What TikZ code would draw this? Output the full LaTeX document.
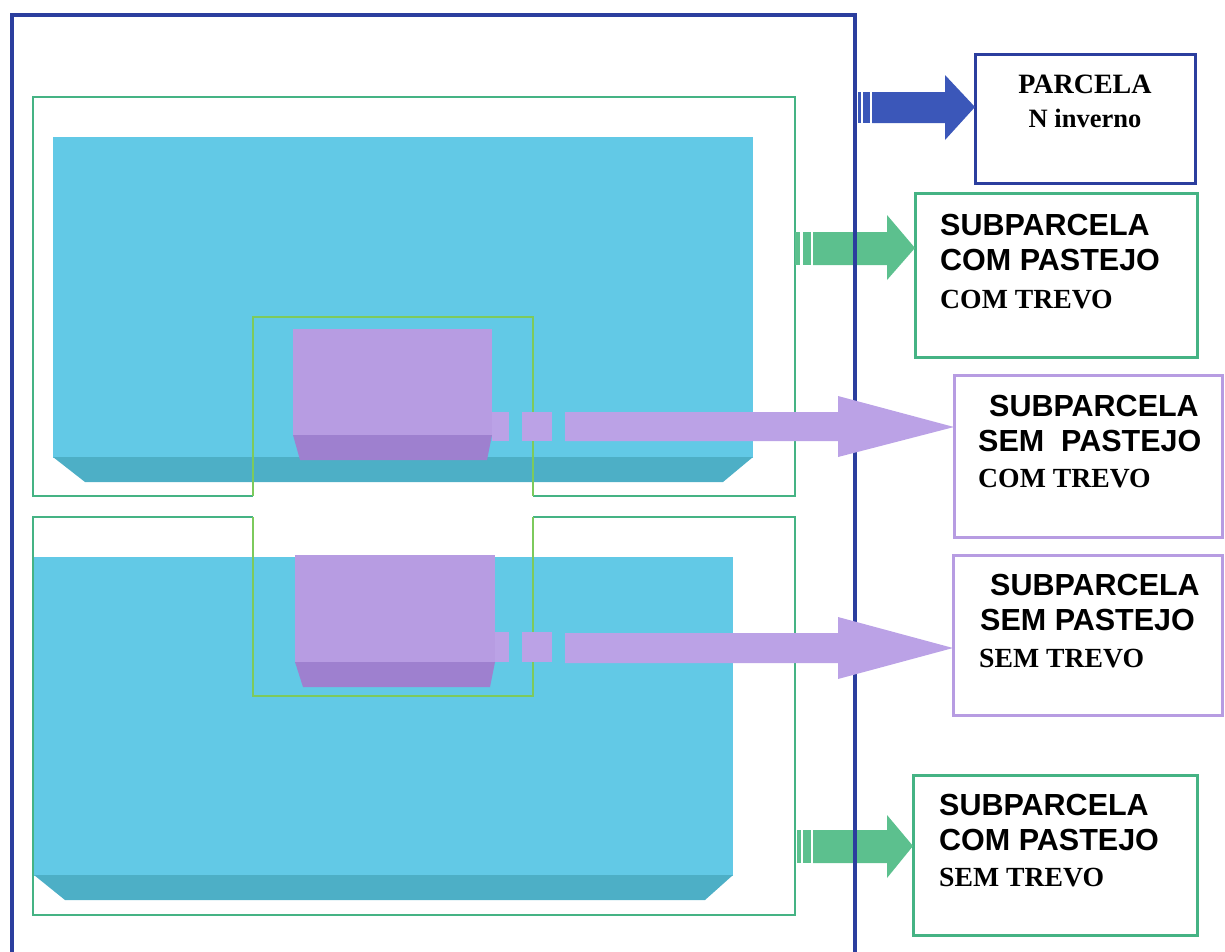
\documentclass[tikz,border=0pt]{standalone}
\usepackage{fontspec}
\setmainfont{Liberation Serif}
\setsansfont{Liberation Sans}
\usetikzlibrary{calc}
\definecolor{pblue}{HTML}{2B3E9E}
\definecolor{pgreen}{HTML}{45B384}
\definecolor{pcyan}{HTML}{62C9E6}
\definecolor{pcyanD}{HTML}{4DAFC6}
\definecolor{ppurple}{HTML}{B79CE2}
\definecolor{ppurpleD}{HTML}{9E80CF}
\definecolor{parrow}{HTML}{BBA2E6}
\definecolor{barrow}{HTML}{3B57B9}
\definecolor{garrow}{HTML}{5CC08E}
\tikzset{
  frameline/.style={draw=pblue, line width=4pt},
  greenline/.style={draw=pgreen, line width=1.8pt},
  innerline/.style={draw=pgreen!70!yellow, line width=1.6pt},
  labelbox/.style={anchor=north west, inner sep=0pt, outer sep=0pt},
  bluebox/.style={labelbox, draw=pblue, line width=3pt},
  greenbox/.style={labelbox, draw=pgreen, line width=3pt},
  purplebox/.style={labelbox, draw=ppurple, line width=3pt},
  sanslbl/.style={anchor=base west, inner sep=0pt, font=\sffamily\bfseries\fontsize{30.5}{30.5}\selectfont},
  seriflbl/.style={anchor=base west, inner sep=0pt, font=\rmfamily\bfseries\fontsize{27.7}{27.7}\selectfont},
}
\begin{document}
\begin{tikzpicture}[x=1pt,y=-1pt]
\useasboundingbox (0,0) rectangle (1225,951);

% cyan blocks
\fill[pcyan] (53,137) rectangle (753,458);
\fill[pcyanD] (53,457) -- (753,457) -- (723,482) -- (85,482) -- cycle;
\fill[pcyan] (34,557) rectangle (733,876);
\fill[pcyanD] (34,875) -- (733,875) -- (705,900) -- (65,900) -- cycle;

% green plot outlines
\draw[greenline] (253,496) -- (33,496) -- (33,97) -- (795,97) -- (795,496) -- (533,496);
\draw[greenline] (253,517) -- (33,517) -- (33,915) -- (795,915) -- (795,517) -- (533,517);
\draw[innerline] (253,496) -- (253,317) -- (533,317) -- (533,496);
\draw[innerline] (253,517) -- (253,696) -- (533,696) -- (533,517);

% purple blocks
\fill[ppurple] (293,329) rectangle (492,436);
\fill[ppurpleD] (293,435) -- (492,435) -- (487,460) -- (300,460) -- cycle;
\fill[ppurple] (295,555) rectangle (495,663);
\fill[ppurpleD] (295,662) -- (495,662) -- (490,687) -- (303,687) -- cycle;

% label boxes
\node[bluebox, minimum width=220, minimum height=129] (parcela) at (975,54) {};
\node[greenbox, minimum width=282, minimum height=164] (gcom) at (915,193) {};
\node[purplebox, minimum width=268, minimum height=162] (pcom) at (954,375) {};
\node[purplebox, minimum width=269, minimum height=160] (psem) at (953,555) {};
\node[greenbox, minimum width=284, minimum height=160] (gsem) at (913,775) {};

% arrow tips
\coordinate (tipB) at ($(parcela.north west)+(0,53)$);
\coordinate (tipG1) at ($(gcom.north west)+(0,55)$);
\coordinate (tipP1) at ($(pcom.north west)+(0,52)$);
\coordinate (tipP2) at ($(psem.north west)+(0,93)$);
\coordinate (tipG2) at ($(gsem.north west)+(0,71)$);

% green arrows (under the blue frame)
\fill[garrow] (795,232) rectangle (800,265);
\fill[garrow] (803,232) rectangle (811,265);
\fill[garrow] (813,232) -- (887,232) -- (887,215) -- (tipG1) -- (887,280) -- (887,265) -- (813,265) -- cycle;
\fill[garrow] (797,830) rectangle (801,863);
\fill[garrow] (803,830) rectangle (811,863);
\fill[garrow] (813,830) -- (887,830) -- (887,815) -- (tipG2) -- (887,878) -- (887,863) -- (813,863) -- cycle;

% blue frame
\draw[frameline] (12,953) -- (12,15) -- (855,15) -- (855,953);

% blue arrow
\fill[barrow] (858,92) rectangle (861,123);
\fill[barrow] (863,92) rectangle (870,123);
\fill[barrow] (872,92) -- (945,92) -- (945,75) -- (tipB) -- (945,140) -- (945,123) -- (872,123) -- cycle;

% purple arrows
\fill[parrow] (492,412) rectangle (509,441);
\fill[parrow] (522,412) rectangle (552,441);
\fill[parrow] (565,412) -- (838,412) -- (838,396) -- (tipP1) -- (838,457) -- (838,441) -- (565,441) -- cycle;
\fill[parrow] (495,632) rectangle (509,662);
\fill[parrow] (522,632) rectangle (552,662);
\fill[parrow] (565,633) -- (838,633) -- (838,617) -- (tipP2) -- (838,679) -- (838,663) -- (565,663) -- cycle;

% texts
\node[anchor=base, inner sep=0pt, font=\rmfamily\bfseries\fontsize{28}{28}\selectfont] (t1a) at ($(parcela.north)+(0,39)$) {PARCELA};
\node[anchor=base, inner sep=0pt, font=\rmfamily\bfseries\fontsize{26.5}{26.5}\selectfont] (t1b) at ($(parcela.north)+(0,73)$) {N inverno};

\node[sanslbl] (t2a) at ($(gcom.north west)+(25,42)$) {SUBPARCELA};
\node[sanslbl] (t2b) at ($(gcom.north west)+(25,77)$) {COM PASTEJO};
\node[seriflbl] (t2c) at ($(gcom.north west)+(25,115)$) {COM TREVO};

\node[sanslbl] (t3a) at ($(pcom.north west)+(35,41)$) {SUBPARCELA};
\node[sanslbl] (t3b) at ($(pcom.north west)+(24,76)$) {SEM \ PASTEJO};
\node[seriflbl] (t3c) at ($(pcom.north west)+(24,112)$) {COM TREVO};

\node[sanslbl] (t4a) at ($(psem.north west)+(37,40)$) {SUBPARCELA};
\node[sanslbl] (t4b) at ($(psem.north west)+(27,75)$) {SEM PASTEJO};
\node[seriflbl] (t4c) at ($(psem.north west)+(26,112)$) {SEM TREVO};

\node[sanslbl] (t5a) at ($(gsem.north west)+(26,40)$) {SUBPARCELA};
\node[sanslbl] (t5b) at ($(gsem.north west)+(26,75)$) {COM PASTEJO};
\node[seriflbl] (t5c) at ($(gsem.north west)+(26,111)$) {SEM TREVO};
\end{tikzpicture}
\end{document}
